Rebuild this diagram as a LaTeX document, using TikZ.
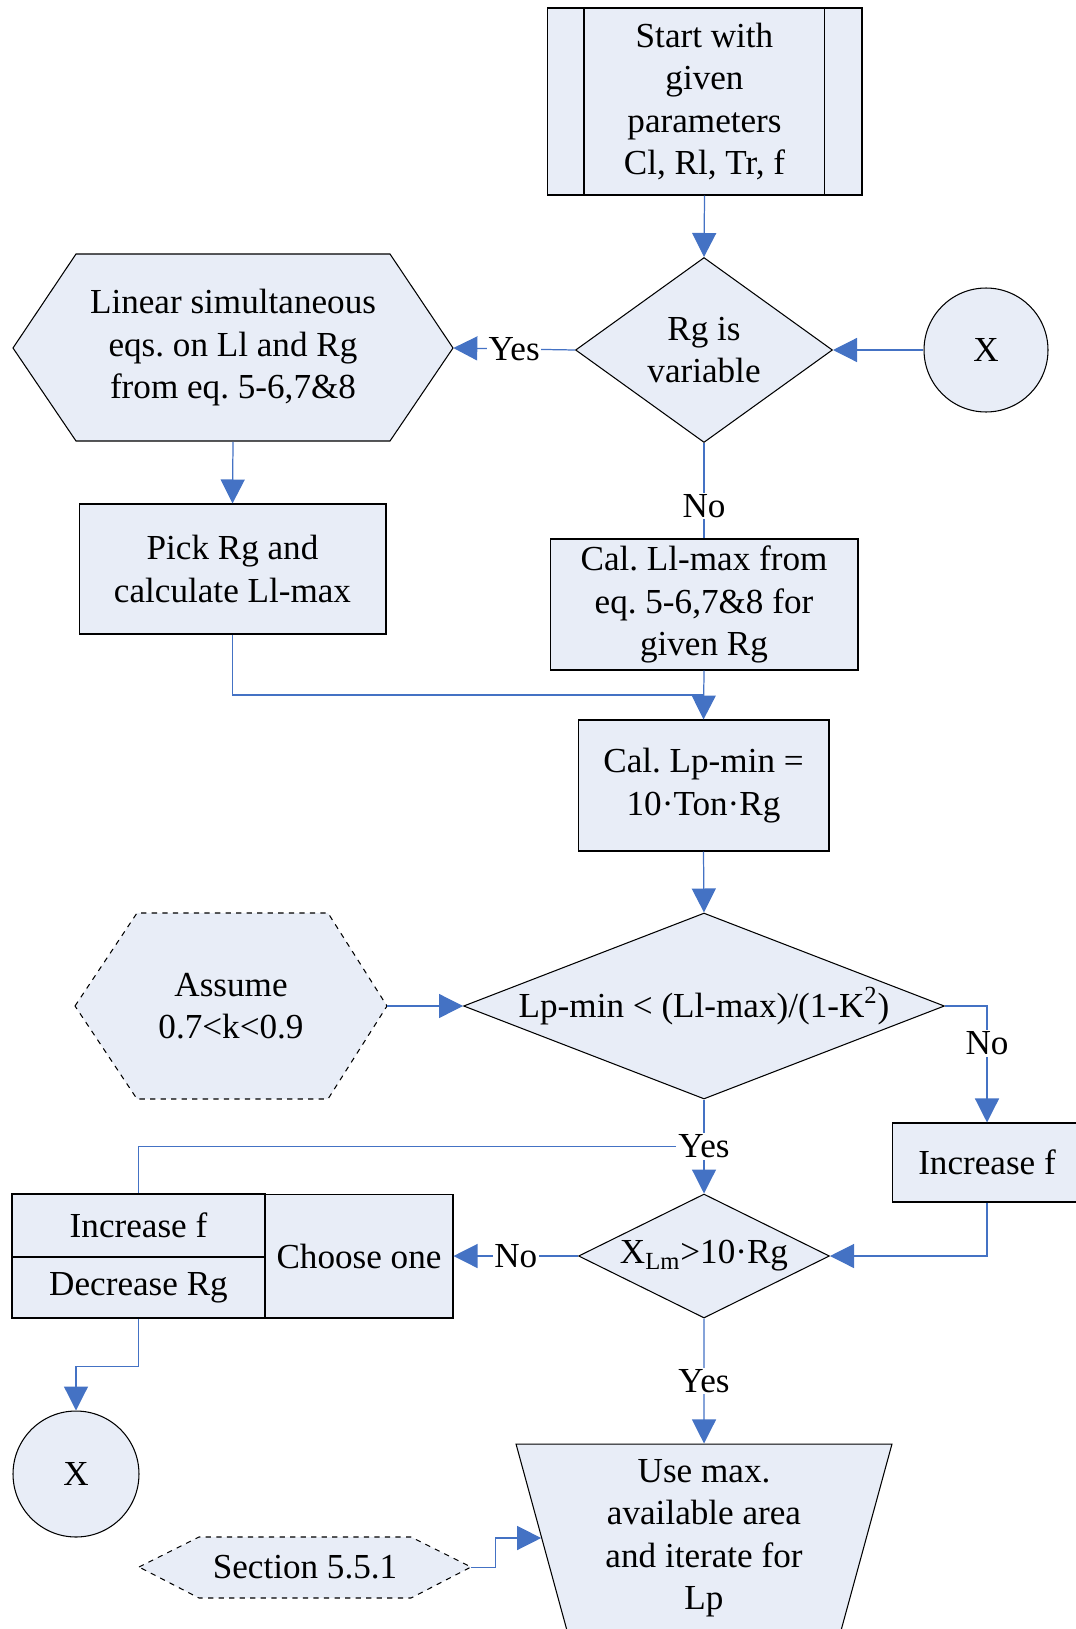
\documentclass[tikz,border=0pt]{standalone}
\usepackage{fontspec}
\setmainfont{Liberation Serif}
\usetikzlibrary{arrows.meta,shapes.geometric,calc}
\definecolor{boxfill}{RGB}{232,237,247}
\definecolor{flowblue}{RGB}{68,114,196}
\frenchspacing
\tikzset{
  box/.style={draw, fill=boxfill, line width=0.6pt, inner sep=0pt, align=center},
  decision/.style={box, diamond, inner sep=-4pt},
  hexfill/.style={draw, fill=boxfill, line width=0.6pt},
  hexlabel/.style={inner sep=0pt, align=center},
  flow/.style={draw=flowblue, line width=0.7pt, -{Triangle[length=0.48cm,width=0.48cm]}},
  link/.style={draw=flowblue, line width=0.7pt},
  lbl/.style={fill=white, inner sep=1pt}
}
\begin{document}
\begin{tikzpicture}[x=0.02cm, y=-0.02cm, font=\fontsize{20pt}{24.2pt}\selectfont]
\useasboundingbox (0,0) rectangle (1075,1629);

% hexagons are drawn first, their text nodes sit on top
\draw[hexfill] (13,348) -- (76,254) -- (390,254) -- (453,348) -- (390,441) -- (76,441) -- cycle;
\draw[hexfill, dashed] (75,1006) -- (137,913) -- (328,913) -- (387,1006) -- (328,1099) -- (137,1099) -- cycle;
\draw[hexfill, dashed] (139,1567) -- (199,1537) -- (411,1537) -- (471,1567) -- (411,1598) -- (199,1598) -- cycle;

\node[box, minimum width=6.3cm, minimum height=3.74cm] (start) at (704.5,101.5) {Start with\\given\\parameters\\Cl, Rl, Tr, f};
\draw[line width=0.6pt] ($(start.north west)+(0.75cm,0)$) -- ($(start.south west)+(0.75cm,0)$);
\draw[line width=0.6pt] ($(start.north east)+(-0.76cm,0)$) -- ($(start.south east)+(-0.76cm,0)$);

\node[decision, aspect=1.4, minimum width=5.14cm, minimum height=3.7cm] (rg) at (704,350) {Rg is\\variable};
\node[box, circle, minimum size=2.48cm] (xa) at (986,350) {X};
\node[hexlabel, minimum width=8.8cm, minimum height=3.74cm] (lin) at (233,348) {Linear simultaneous\\eqs. on Ll and Rg\\from eq. 5-6,7\&8};

\node[box, minimum width=6.14cm, minimum height=2.6cm] (pick) at (232.5,569) {Pick Rg and\\calculate Ll-max};
\node[box, minimum width=6.16cm, minimum height=2.62cm] (calll) at (704,604.5) {Cal. Ll-max from\\eq. 5-6,7\&8 for\\given Rg};
\node[box, minimum width=5.02cm, minimum height=2.62cm] (callp) at (703.5,785.5) {Cal. Lp-min =\\10·Ton·Rg};

\node[decision, aspect=2.6, minimum width=9.62cm, minimum height=3.72cm] (cond) at (704,1006) {Lp-min < (Ll-max)/(1-K\textsuperscript{2})};
\node[hexlabel, minimum width=6.24cm, minimum height=3.72cm] (assume) at (231,1006) {Assume\\0.7<k<0.9};
\node[box, minimum width=3.8cm, minimum height=1.58cm] (incr) at (987,1162.5) {Increase f};

\node[decision, aspect=2, minimum width=5.02cm, minimum height=2.48cm] (xlm) at (704,1256) {X\textsubscript{Lm}>10·Rg};
\node[box, minimum width=5.06cm, minimum height=1.26cm] (inc) at (138.5,1225.5) {Increase f};
\node[box, minimum width=5.06cm, minimum height=1.22cm] (dec) at (138.5,1287.5) {Decrease Rg};
\node[box, minimum width=3.76cm, minimum height=2.48cm] (choose) at (359,1256) {Choose one};
\node[box, circle, minimum size=2.52cm] (xb) at (76,1474) {X};

\node[box, trapezium, shape border rotate=180, trapezium angle=72, trapezium stretches body,
      minimum width=7.52cm, minimum height=3.76cm] (use) at (704,1538) {Use max.\\available area\\and iterate for\\Lp};
\node[hexlabel, minimum width=6.64cm, minimum height=1.22cm] (sec) at (305,1567.5) {Section 5.5.1};

% connectors
\draw[flow] (start.south) -- (rg.north);
\draw[flow] (xa.west) -- (rg.east);
\draw[flow] (rg.west) -- node[lbl] {Yes} (lin.east);
\draw[flow] (lin.south) -- (pick.north);
\draw[link] (rg.south) -- node[lbl, pos=0.66] {No} (calll.north);
\draw[link] (pick.south) |- ($(calll.south)!0.5!(callp.north)$);
\draw[flow] (calll.south) -- (callp.north);
\draw[flow] (callp.south) -- (cond.north);
\draw[flow] (assume.east) -- (cond.west);
\draw[flow] (cond.east) -| node[lbl, pos=0.66] {No} (incr.north);
\draw[flow] (cond.south) -- node[lbl] (yes) {Yes} (xlm.north);
\draw[link] (yes.west) -| (inc.north);
\draw[flow] (incr.south) |- (xlm.east);
\draw[flow] (xlm.west) -- node[lbl] {No} (choose.east);
\draw[flow] (dec.south) -- ++(0,-0.96cm) -| (xb.north);
\draw[flow] (xlm.south) -- node[lbl] {Yes} (use.north);
\draw[flow] (sec.east) -- ++(0.48cm,0) |- (use.180);
\end{tikzpicture}
\end{document}
